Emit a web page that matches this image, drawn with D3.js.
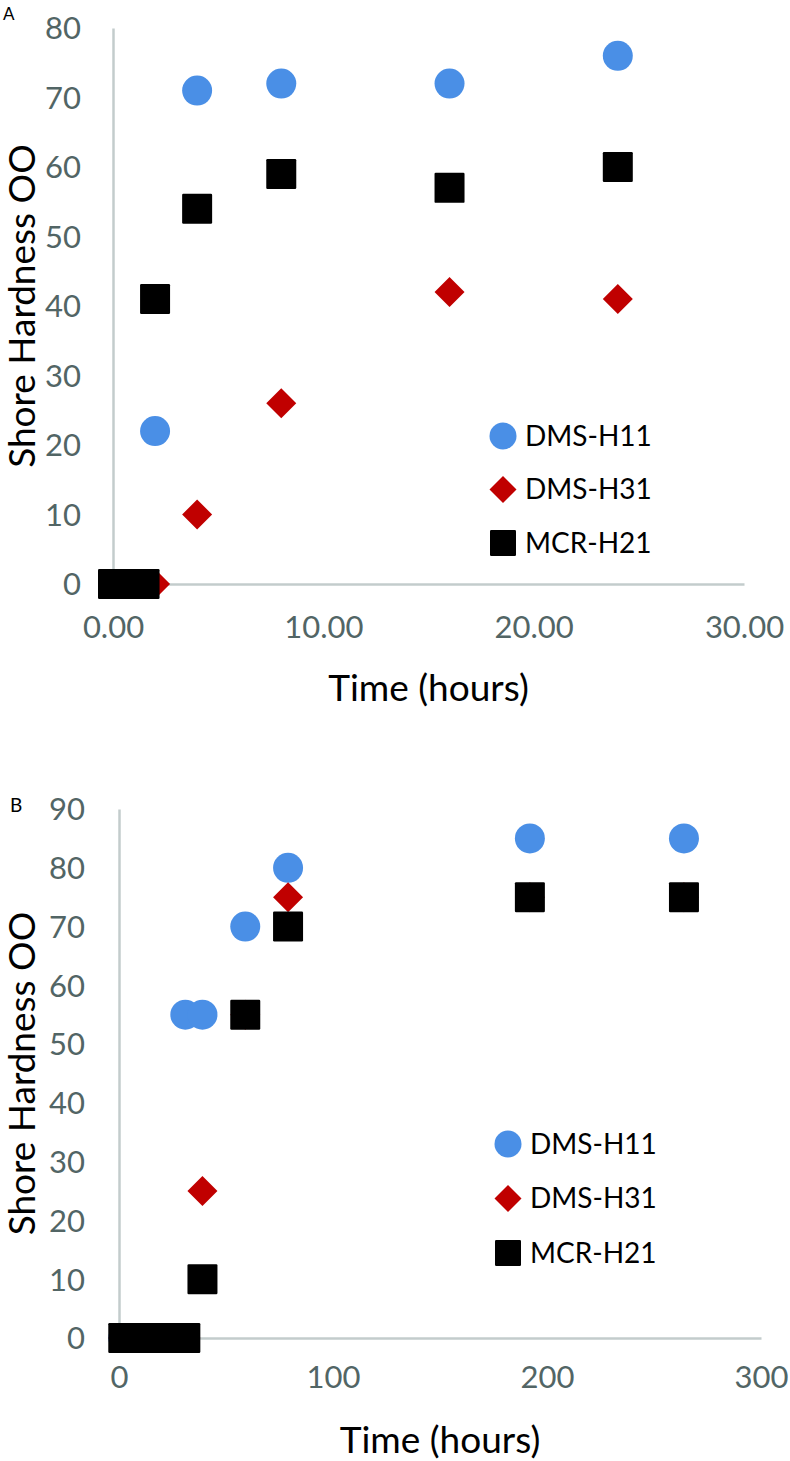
<!DOCTYPE html>
<html>
<head>
<meta charset="utf-8">
<script src="https://cdn.jsdelivr.net/npm/d3@7"></script>
<style>
  html, body { margin: 0; padding: 0; background: #fff; }
  svg { display: block; }
  text { font-family: Lato, "Open Sans", sans-serif; }
</style>
</head>
<body>
<svg id="chart" width="790" height="1461"></svg>
<script>
// ---------- Data ----------
const seriesNames = ["DMS-H11", "DMS-H31", "MCR-H21"];

// Panel A
const timeA = [0, 0.5, 1, 1.5, 2, 4, 8, 16, 24];
const dmsH11A = [0, 0, 0, 0, 22, 71, 72, 72, 76];
const dmsH31A = [0, 0, 0, 0, 0, 10, 26, 42, 41];
const mcrH21A = [0, 0, 0, 0, 41, 54, 59, 57, 60];
const xTicksA = [0, 10, 20, 30];
const yTicksA = [0, 10, 20, 30, 40, 50, 60, 70, 80];

// Panel B
const timeB = [2, 8, 16, 24, 31, 39, 59, 79, 192, 264];
const dmsH11B = [0, 0, 0, 0, 55, 55, 70, 80, 85, 85];
const dmsH31B = [0, 0, 0, 0, 0, 25, 55, 75, 75, 75];
const mcrH21B = [0, 0, 0, 0, 0, 10, 55, 70, 75, 75];
const xTicksB = [0, 100, 200, 300];
const yTicksB = [0, 10, 20, 30, 40, 50, 60, 70, 80, 90];

const xTitle = "Time (hours)";
const yTitle = "Shore Hardness OO";

// ---------- Style ----------
const colors = ["#4a8fe6", "#c00000", "#000000"];
const shapes = ["circle", "diamond", "square"];
const axisColor = "#c3cccc";
const tickColor = "#526565";

const svg = d3.select("#chart");

function marker(g, shape, color, size) {
  const h = size / 2;
  if (shape === "circle") {
    return g.append("circle").attr("r", h).attr("fill", color);
  } else if (shape === "diamond") {
    return g.append("path")
      .attr("d", `M0,${-h}L${h},0L0,${h}L${-h},0Z`)
      .attr("fill", color);
  } else {
    return g.append("rect").attr("x", -h).attr("y", -h)
      .attr("width", size).attr("height", size).attr("rx", 1.2)
      .attr("fill", color);
  }
}

function panel(cfg) {
  const g = svg.append("g");
  const x = d3.scaleLinear().domain(cfg.xDomain).range([cfg.left, cfg.right]);
  const y = d3.scaleLinear().domain(cfg.yDomain).range([cfg.bottom, cfg.top]);

  // Y axis
  const yAxis = d3.axisLeft(y).tickValues(cfg.yTicks).tickSize(0).tickPadding(cfg.yPad)
    .tickFormat(d3.format("d"));
  const ya = g.append("g").attr("transform", `translate(${cfg.left},0)`).call(yAxis);
  ya.select(".domain").attr("stroke", axisColor).attr("stroke-width", 2.5);
  ya.selectAll("text").attr("fill", tickColor).attr("font-size", 31)
    .attr("font-family", "Lato, sans-serif").attr("dy", "0.35em");

  // X axis
  const xAxis = d3.axisBottom(x).tickValues(cfg.xTicks).tickSize(0).tickPadding(cfg.xPad)
    .tickFormat(d3.format(cfg.xFormat));
  const xa = g.append("g").attr("transform", `translate(0,${cfg.bottom})`).call(xAxis);
  xa.select(".domain").attr("stroke", axisColor).attr("stroke-width", 2.5);
  xa.selectAll("text").attr("fill", tickColor).attr("font-size", 31)
    .attr("font-family", "Lato, sans-serif");

  // points
  cfg.series.forEach((vals, si) => {
    const sg = g.append("g");
    vals.forEach((v, i) => {
      const mg = sg.append("g").attr("transform", `translate(${x(cfg.time[i])},${y(v)})`);
      marker(mg, shapes[si], colors[si], 30);
    });
  });

  // axis titles
  g.append("text").attr("x", (cfg.left + cfg.right) / 2).attr("y", cfg.xTitleY)
    .attr("text-anchor", "middle").attr("font-size", 37).attr("fill", "#000")
    .text(xTitle);
  g.append("text")
    .attr("transform", `translate(${cfg.yTitleX},${(cfg.top + cfg.bottom) / 2}) rotate(-90)`)
    .attr("text-anchor", "middle").attr("font-size", 37).attr("fill", "#000")
    .text(yTitle);

  // legend
  seriesNames.forEach((name, i) => {
    const lg = g.append("g").attr("transform", `translate(${cfg.legX},${cfg.legY + i * cfg.legDy})`);
    marker(lg, shapes[i], colors[i], shapes[i] === "square" ? 26 : 27);
    lg.append("text").attr("x", 22).attr("y", 0).attr("dy", "0.35em")
      .attr("font-size", 28).attr("fill", "#000").text(name);
  });

  // panel label
  g.append("text").attr("x", cfg.labelX).attr("y", cfg.labelY)
    .attr("font-size", cfg.labelSize).attr("fill", "#000").text(cfg.label);
}

panel({
  label: "A", labelX: 3, labelY: 20, labelSize: 17,
  time: timeA, series: [dmsH11A, dmsH31A, mcrH21A],
  xDomain: [0, 30], yDomain: [0, 80],
  left: 113, right: 744, top: 28, bottom: 584,
  xTicks: xTicksA, yTicks: yTicksA, xFormat: ".2f",
  yPad: 32, xPad: 32,
  xTitleY: 701, yTitleX: 35,
  legX: 503, legY: 436, legDy: 53.5
});

panel({
  label: "B", labelX: 10, labelY: 812, labelSize: 19,
  time: timeB, series: [dmsH11B, dmsH31B, mcrH21B],
  xDomain: [0, 300], yDomain: [0, 90],
  left: 119, right: 761, top: 809, bottom: 1338,
  xTicks: xTicksB, yTicks: yTicksB, xFormat: "d",
  yPad: 34, xPad: 28,
  xTitleY: 1453, yTitleX: 35,
  legX: 508, legY: 1144, legDy: 54.5
});
</script>
</body>
</html>
